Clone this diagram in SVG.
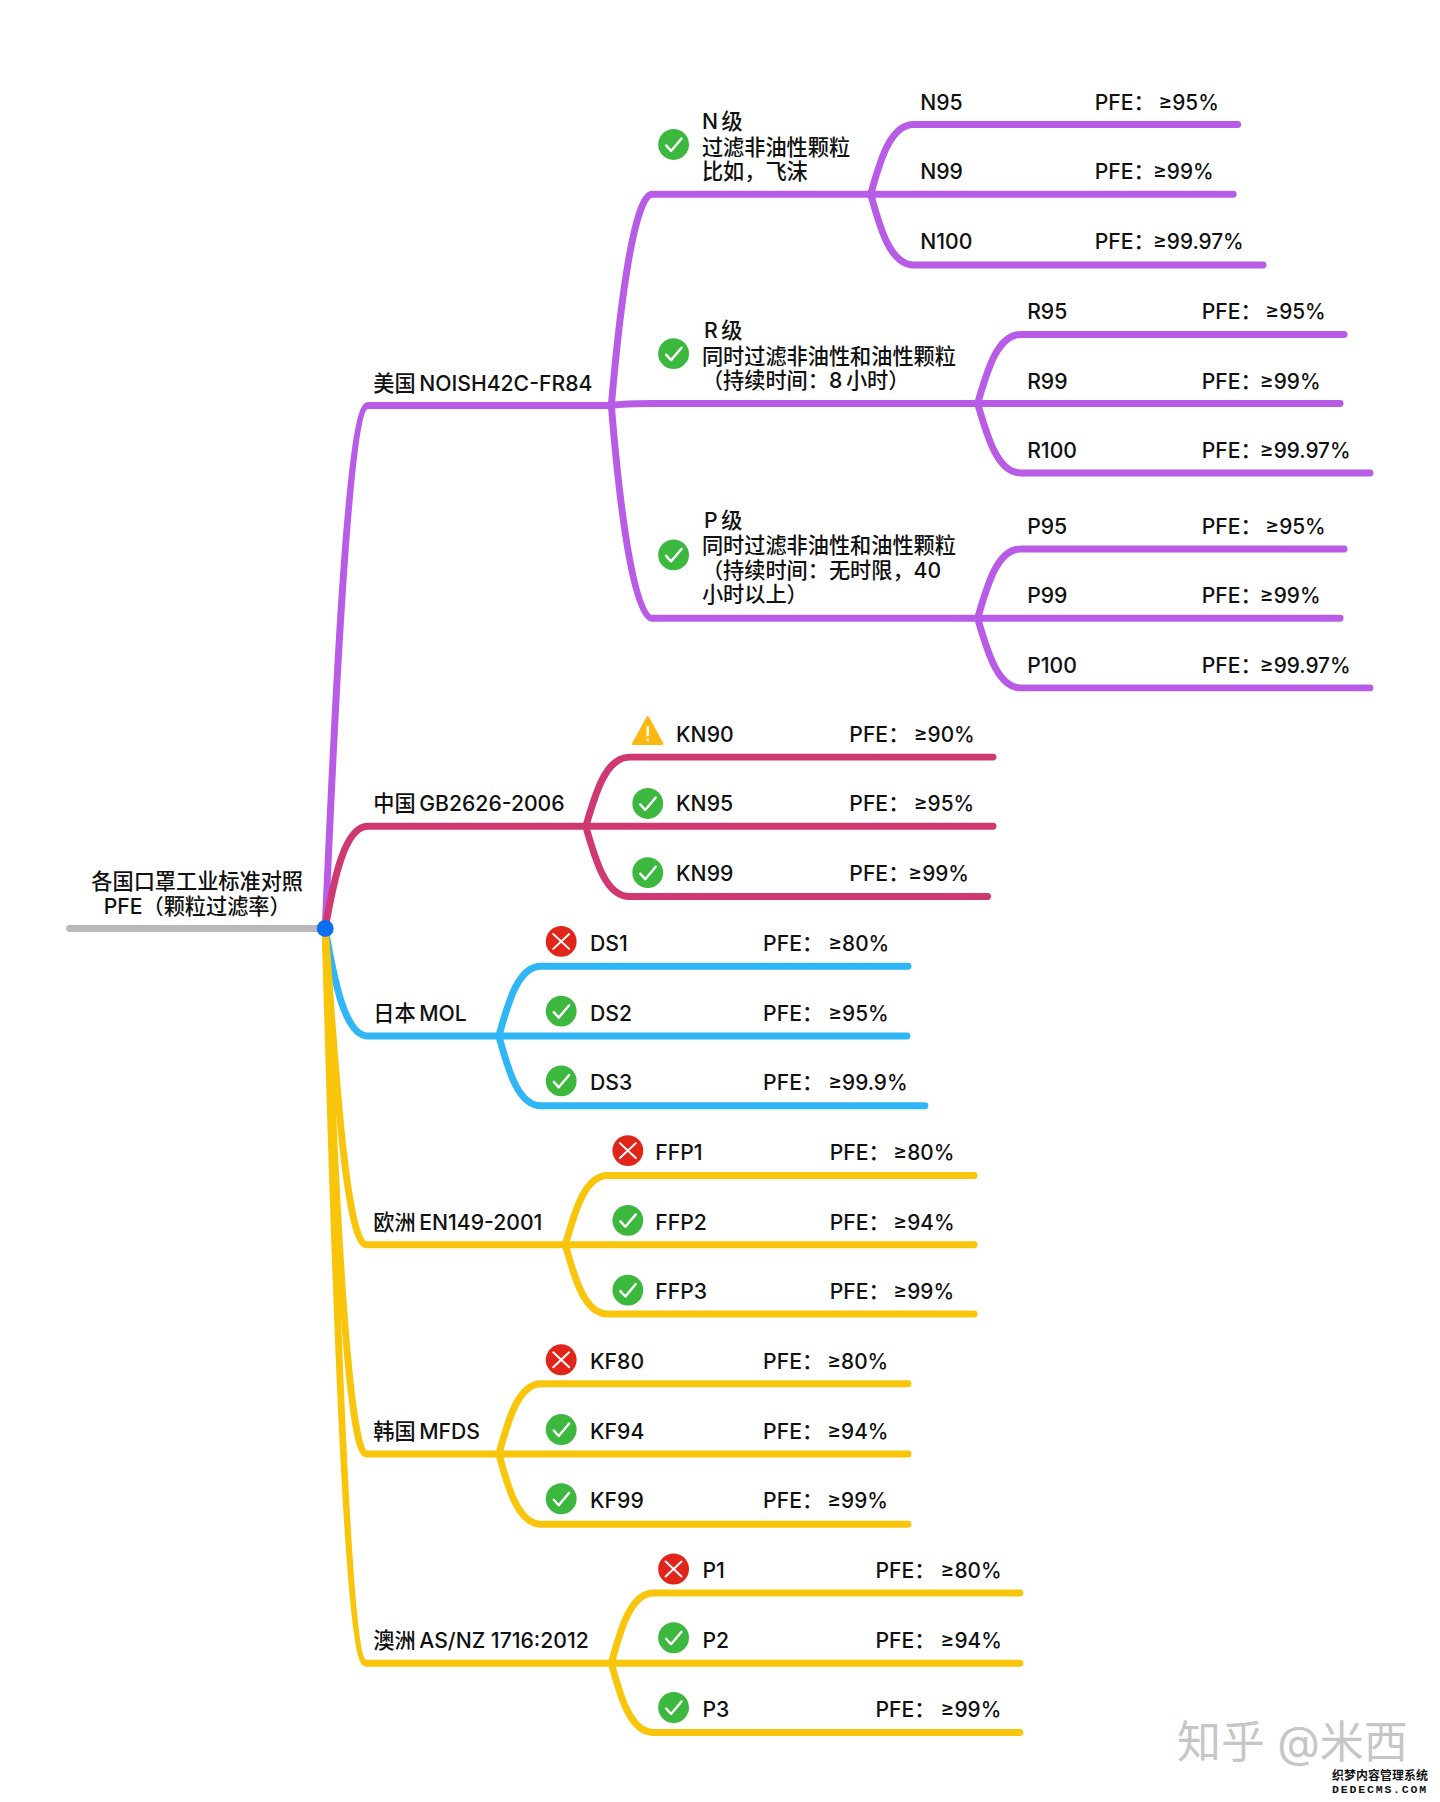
<svg xmlns="http://www.w3.org/2000/svg" width="1440" height="1802" viewBox="0 0 1440 1802">
<style>
text{font-family:"Inter","Noto Sans CJK SC","Noto Sans",sans-serif;font-size:21.3px;fill:#111;font-weight:500}
tspan{font-size:20.9px}
.c{fill:none;stroke-width:7;stroke-linecap:round;stroke-linejoin:round}
.pu{stroke:#b85ce8}.cr{stroke:#cf3870}.bl{stroke:#30b5f5}.ye{stroke:#f8c50a}
.m{text-anchor:middle}
text.wm{font-size:44px;fill:#c6c6c6;font-weight:400}
text.b1{font-size:12px;font-weight:700;fill:#111;stroke:#fff;stroke-width:2.5px;paint-order:stroke;font-family:"Noto Sans CJK SC",sans-serif}
text.b2{font-size:11.5px;font-weight:700;fill:#111;stroke:#fff;stroke-width:2.5px;paint-order:stroke;font-family:"Liberation Mono",monospace;letter-spacing:1.8px}
</style>
<defs>
<g id="ok"><circle r="15.5" fill="#3db83f"/><path d="M-7.500 1L-2.500 6.500L8-6" fill="none" stroke="#fff" stroke-width="2.400" stroke-linecap="round" stroke-linejoin="round"/></g>
<g id="no"><circle r="15.5" fill="#e1251b"/><path d="M-8-7.500L8 7.500M8-7.500L-8 7.500" fill="none" stroke="#fff" stroke-width="2" stroke-linecap="round"/></g>
<g id="warn"><path d="M0-15L14.500 11.500H-14.500Z" fill="#fcb813" stroke="#fcb813" stroke-width="2.500" stroke-linejoin="round"/><path d="M0-5V3M0 7.500V8" fill="none" stroke="#fff" stroke-width="2.400" stroke-linecap="round"/></g>
</defs>
<g transform="translate(2 0) scale(.9945 .9962)">
<g id="connectors">
<path class="c" d="M68 932H325" style="stroke:#b9b9b9"/>
<g class="c pu">
<path d="M325 932C331 800 346 407 368 407H612"/>
<path d="M612.700 407C625 405 635 405 654 405H981M612.700 407C622 300 636 195 654 195H873.500M612.700 407C622 520 636 620.700 654 620.700H981"/>
<path d="M873.500 195C882 165 892 125 917 125H1242.500M873.500 195H1238M873.500 195C882 225 892 266 917 266H1268"/>
<path d="M981 405C990 375 1000 335.700 1024.500 335.700H1349.500M981 405H1345.500M981 405C990 435 1000 474.800 1024.500 474.800H1375.500"/>
<path d="M981 620.700C990 590 1000 551 1024.500 551H1349.500M981 620.700H1345.500M981 620.700C990 650 1000 690.500 1024.500 690.500H1375.500"/>
</g>
<g class="c cr">
<path d="M325 932C334 880 345 829.500 368 829.500H587"/>
<path d="M587 829.500C596 800 606 760 631 760H996.500M587 829.500H996.500M587 829.500C596 860 606 900 631 900H991"/>
</g>
<g class="c bl">
<path d="M325 932C334 985 345 1040 368 1040H499.600"/>
<path d="M499.600 1040C508 1010 518 970 542 970H911M499.600 1040H910M499.600 1040C508 1070 518 1110 542 1110H928"/>
</g>
<g class="c ye">
<path d="M325 932C333 1040 345 1249.500 366 1249.500H566.500"/>
<path d="M566.500 1249.500C575 1220 585 1180 609 1180H977.500M566.500 1249.500H977.500M566.500 1249.500C575 1280 585 1319 609 1319H977.500"/>
<path d="M325 932C331 1100 345 1459.500 366 1459.500H499.600"/>
<path d="M499.600 1459.500C508 1430 518 1389 542 1389H911M499.600 1459.500H911M499.600 1459.500C508 1490 518 1530 542 1530H911"/>
<path d="M325 932C331 1150 345 1669.500 366 1669.500H612.700"/>
<path d="M612.700 1669.500C621 1640 631 1599 655 1599H1023.500M612.700 1669.500H1023.500M612.700 1669.500C621 1700 631 1739 655 1739H1023.500"/>
</g>
</g>
</g>
<g transform="translate(1.300 0) scale(.9945 .9962)">
<g id="root"><circle cx="325.700" cy="932" r="8.500" fill="#0a6ff0"/><text class="m" x="197" y="892">各国口罩工业标准对照</text><text class="m" x="197" y="917">PFE（颗粒过滤率）</text></g>
<g id="usa"><text x="374" y="392">美国&#8201;NOISH42C-FR84</text></g>
<g id="china"><text x="374" y="814.500">中国&#8201;GB2626-2006</text></g>
<g id="japan"><text x="374" y="1025">日本&#8201;MOL</text></g>
<g id="europe"><text x="374" y="1234.500">欧洲&#8201;EN149-2001</text></g>
<g id="korea"><text x="374" y="1444.500">韩国&#8201;MFDS</text></g>
<g id="australia"><text x="374" y="1654.500">澳洲&#8201;AS/NZ 1716:2012</text></g>
<g id="n-class"><use href="#ok" x="676" y="145"/><text x="704.500" y="129.600">N&#8201;级</text><text x="704.500" y="155.300">过滤非油性颗粒</text><text x="704.500" y="180">比如，飞沫</text></g>
<g id="r-class"><use href="#ok" x="676" y="355"/><text x="706.500" y="339.600">R&#8201;级</text><text x="704.500" y="365">同时过滤非油性和油性颗粒</text><text x="704.500" y="389.300">（持续时间：8&#8201;小时）</text></g>
<g id="p-class"><use href="#ok" x="676" y="557"/><text x="706.500" y="529.600">P&#8201;级</text><text x="704.500" y="555">同时过滤非油性和油性颗粒</text><text x="704.500" y="580">（持续时间：无时限，40</text><text x="704.500" y="604.700">小时以上）</text></g>
<g id="n95"><text x="924" y="110">N95</text><text x="1099.500" y="110">PFE：<tspan x="1163.500">≥95%</tspan></text></g>
<g id="n99"><text x="924" y="180">N99</text><text x="1099.500" y="180">PFE：<tspan x="1158">≥99%</tspan></text></g>
<g id="n100"><text x="924" y="250">N100</text><text x="1099.500" y="250">PFE：<tspan x="1158">≥99.97%</tspan></text></g>
<g id="r95"><text x="1031.500" y="320">R95</text><text x="1207" y="320">PFE：<tspan x="1271">≥95%</tspan></text></g>
<g id="r99"><text x="1031.500" y="390">R99</text><text x="1207" y="390">PFE：<tspan x="1265.500">≥99%</tspan></text></g>
<g id="r100"><text x="1031.500" y="459.800">R100</text><text x="1207" y="459.800">PFE：<tspan x="1265.500">≥99.97%</tspan></text></g>
<g id="p95"><text x="1031.500" y="536">P95</text><text x="1207" y="536">PFE：<tspan x="1271">≥95%</tspan></text></g>
<g id="p99"><text x="1031.500" y="605.700">P99</text><text x="1207" y="605.700">PFE：<tspan x="1265.500">≥99%</tspan></text></g>
<g id="p100"><text x="1031.500" y="675.500">P100</text><text x="1207" y="675.500">PFE：<tspan x="1265.500">≥99.97%</tspan></text></g>
<g id="kn90"><use href="#warn" x="650" y="735"/><text x="678.500" y="745">KN90</text><text x="852.700" y="745">PFE：<tspan x="917.500">≥90%</tspan></text></g>
<g id="kn95"><use href="#ok" x="650" y="806.500"/><text x="678.500" y="814.500">KN95</text><text x="852.700" y="814.500">PFE：<tspan x="917.500">≥95%</tspan></text></g>
<g id="kn99"><use href="#ok" x="650" y="876"/><text x="678.500" y="884">KN99</text><text x="852.700" y="884">PFE：<tspan x="912">≥99%</tspan></text></g>
<g id="ds1"><use href="#no" x="563" y="945"/><text x="592" y="955">DS1</text><text x="766" y="955">PFE：<tspan x="831.500">≥80%</tspan></text></g>
<g id="ds2"><use href="#ok" x="563" y="1015"/><text x="592" y="1024.500">DS2</text><text x="766" y="1024.500">PFE：<tspan x="831.500">≥95%</tspan></text></g>
<g id="ds3"><use href="#ok" x="563" y="1085"/><text x="592" y="1094.500">DS3</text><text x="766" y="1094.500">PFE：<tspan x="831.500">≥99.9%</tspan></text></g>
<g id="ffp1"><use href="#no" x="630" y="1155"/><text x="657.600" y="1164.500">FFP1</text><text x="833" y="1164.500">PFE：<tspan x="897">≥80%</tspan></text></g>
<g id="ffp2"><use href="#ok" x="630" y="1225"/><text x="657.600" y="1234.500">FFP2</text><text x="833" y="1234.500">PFE：<tspan x="897">≥94%</tspan></text></g>
<g id="ffp3"><use href="#ok" x="630" y="1295"/><text x="657.600" y="1304">FFP3</text><text x="833" y="1304">PFE：<tspan x="897">≥99%</tspan></text></g>
<g id="kf80"><use href="#no" x="563" y="1365"/><text x="592" y="1374">KF80</text><text x="766" y="1374">PFE：<tspan x="830.500">≥80%</tspan></text></g>
<g id="kf94"><use href="#ok" x="563" y="1435"/><text x="592" y="1444">KF94</text><text x="766" y="1444">PFE：<tspan x="830.500">≥94%</tspan></text></g>
<g id="kf99"><use href="#ok" x="563" y="1504.500"/><text x="592" y="1514">KF99</text><text x="766" y="1514">PFE：<tspan x="830.500">≥99%</tspan></text></g>
<g id="p1"><use href="#no" x="676" y="1575"/><text x="705" y="1584">P1</text><text x="879" y="1584">PFE：<tspan x="944.500">≥80%</tspan></text></g>
<g id="p2"><use href="#ok" x="676" y="1644"/><text x="705" y="1654">P2</text><text x="879" y="1654">PFE：<tspan x="944.500">≥94%</tspan></text></g>
<g id="p3"><use href="#ok" x="676" y="1714"/><text x="705" y="1724">P3</text><text x="879" y="1724">PFE：<tspan x="944.500">≥99%</tspan></text></g>
</g>
<g id="watermark-a"><text class="wm" x="1177" y="1758">知乎 @米西</text></g>
<g id="watermark-b"><text class="b1" x="1332" y="1780" textLength="96">织梦内容管理系统</text><text class="b2" x="1332" y="1792.500" textLength="96">DEDECMS.COM</text></g>
</svg>
